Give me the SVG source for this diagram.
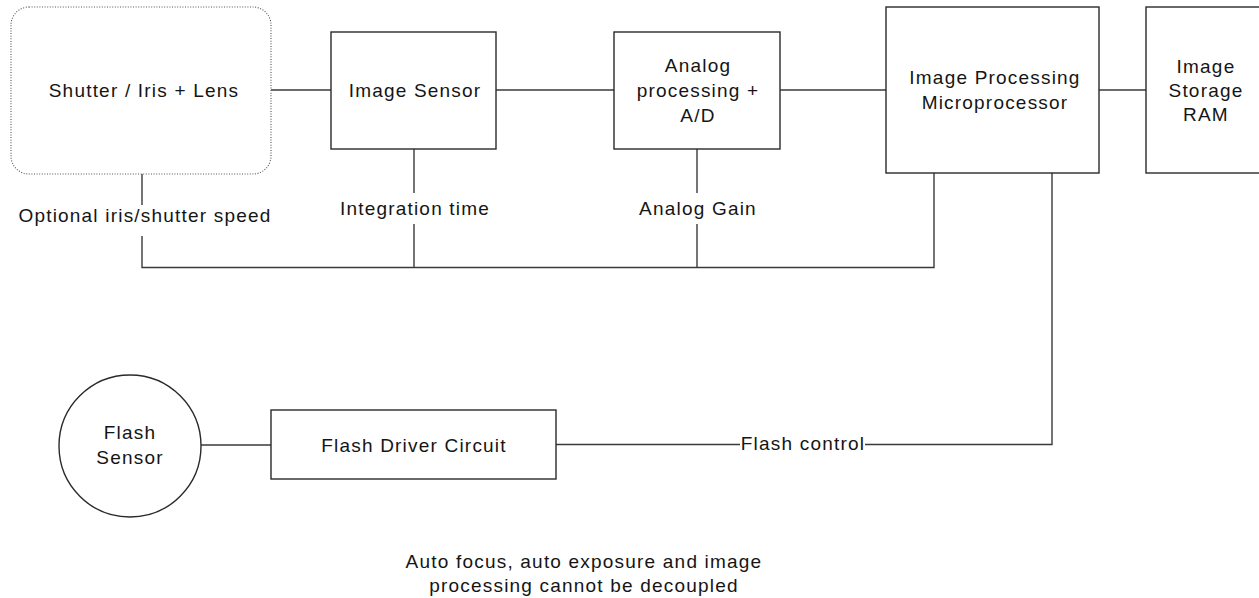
<svg xmlns="http://www.w3.org/2000/svg" width="1259" height="598" viewBox="0 0 1259 598">
  <style>
    .box { fill: #ffffff; stroke: #2a2a2a; stroke-width: 1.4; }
    .soft { fill: #ffffff; stroke: #555555; stroke-width: 1.1; stroke-dasharray: 1 1.6; }
    .wire { fill: none; stroke: #3a3a3a; stroke-width: 1.4; }
    text { font-family: "Liberation Sans", Arial, Helvetica, sans-serif; font-size: 19px; fill: #151515; letter-spacing: 1.2px; text-anchor: middle; }
  </style>
  <rect width="1259" height="598" fill="#ffffff"/>

  <!-- connectors -->
  <g id="connectors">
    <!-- main signal chain -->
    <line class="wire" x1="271" y1="90" x2="331" y2="90"/>
    <line class="wire" x1="496" y1="90" x2="614" y2="90"/>
    <line class="wire" x1="780" y1="90" x2="886" y2="90"/>
    <line class="wire" x1="1099" y1="90" x2="1146" y2="90"/>
    <!-- control bus from the microprocessor -->
    <polyline class="wire" points="934,173 934,267.5 142,267.5 142,236"/>
    <line class="wire" x1="142" y1="174" x2="142" y2="205"/>
    <line class="wire" x1="414" y1="149" x2="414" y2="193"/>
    <line class="wire" x1="414" y1="224" x2="414" y2="267.5"/>
    <line class="wire" x1="697" y1="149" x2="697" y2="193"/>
    <line class="wire" x1="697" y1="224" x2="697" y2="267.5"/>
    <!-- flash path -->
    <line class="wire" x1="201" y1="445" x2="271" y2="445"/>
    <line class="wire" x1="556" y1="444.5" x2="740" y2="444.5"/>
    <polyline class="wire" points="865,444.5 1052,444.5 1052,173"/>
    <!-- connector labels -->
    <text x="145" y="222">Optional iris/shutter speed</text>
    <text x="415" y="215">Integration time</text>
    <text x="698" y="215">Analog Gain</text>
    <text x="803" y="450">Flash control</text>
  </g>

  <g id="shutter">
    <rect class="soft" x="11" y="7" width="260" height="167" rx="18" ry="18"/>
    <text x="144" y="97">Shutter / Iris + Lens</text>
  </g>

  <g id="image-sensor">
    <rect class="box" x="331" y="32" width="165" height="117"/>
    <text x="415" y="97">Image Sensor</text>
  </g>

  <g id="analog">
    <rect class="box" x="614" y="32" width="166" height="117"/>
    <text x="698" y="72">Analog</text>
    <text x="698" y="97">processing +</text>
    <text x="698" y="122">A/D</text>
  </g>

  <g id="microprocessor">
    <rect class="box" x="886" y="7" width="213" height="166"/>
    <text x="995" y="84">Image Processing</text>
    <text x="995" y="109">Microprocessor</text>
  </g>

  <g id="ram">
    <rect class="box" x="1146" y="7" width="118" height="166"/>
    <text x="1206" y="73">Image</text>
    <text x="1206" y="97">Storage</text>
    <text x="1206" y="121">RAM</text>
  </g>

  <g id="flash-sensor">
    <circle class="box" cx="130" cy="446" r="71"/>
    <text x="130" y="439">Flash</text>
    <text x="130" y="464">Sensor</text>
  </g>

  <g id="flash-driver">
    <rect class="box" x="271" y="410" width="285" height="69"/>
    <text x="414" y="452">Flash Driver Circuit</text>
  </g>

  <g id="note">
    <text x="584" y="568">Auto focus, auto exposure and image</text>
    <text x="584" y="592">processing cannot be decoupled</text>
  </g>
</svg>
